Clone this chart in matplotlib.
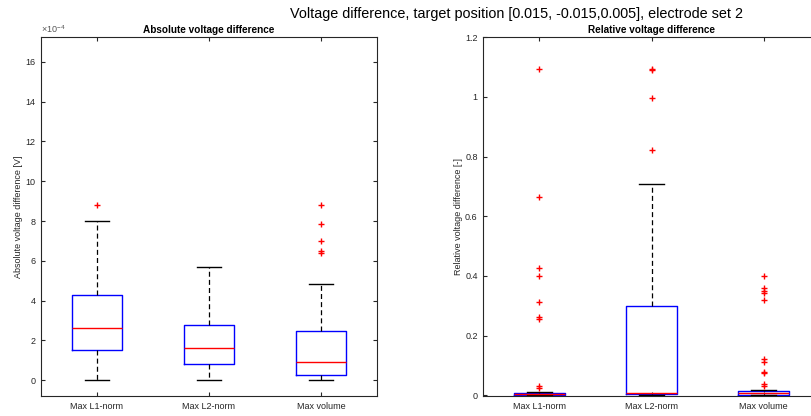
import matplotlib
matplotlib.use('Agg')
import matplotlib.pyplot as plt
from matplotlib.ticker import FixedLocator, FuncFormatter

plt.rcParams['font.family'] = ['Liberation Sans', 'DejaVu Sans']
plt.rcParams['mathtext.default'] = 'regular'

categories = ['Max L1-norm', 'Max L2-norm', 'Max volume']

# Absolute voltage difference [V]: box statistics per electrode-selection method
abs_q1 = [1.52e-4, 0.80e-4, 0.27e-4]
abs_med = [2.63e-4, 1.61e-4, 0.92e-4]
abs_q3 = [4.29e-4, 2.78e-4, 2.47e-4]
abs_whislo = [0.0, 0.0, 0.0]
abs_whishi = [8.02e-4, 5.67e-4, 4.85e-4]
abs_fliers = [[8.80e-4],
              [],
              [8.80e-4, 7.87e-4, 6.99e-4, 6.51e-4, 6.37e-4]]

# Relative voltage difference [-]
rel_q1 = [0.0005, 0.003, 0.001]
rel_med = [0.004, 0.0067, 0.007]
rel_q3 = [0.008, 0.301, 0.0134]
rel_whislo = [0.0, 0.0, 0.0]
rel_whishi = [0.011, 0.709, 0.019]
rel_fliers = [[1.094, 0.665, 0.426, 0.399, 0.314, 0.264, 0.257, 0.032, 0.0235],
              [1.093, 1.090, 0.997, 0.823],
              [0.400, 0.360, 0.351, 0.342, 0.319, 0.121, 0.113, 0.079, 0.074,
               0.039, 0.031]]

abs_ticks = [0, 2e-4, 4e-4, 6e-4, 8e-4, 10e-4, 12e-4, 14e-4, 16e-4]
rel_ticks = [0, 0.2, 0.4, 0.6, 0.8, 1.0, 1.2]

AX_COLOR = '#262626'
W, H = 811, 416


def make_stats(q1, med, q3, lo, hi, fliers):
    return [dict(q1=a, med=b, q3=c, whislo=d, whishi=e, fliers=f, label=lab)
            for a, b, c, d, e, f, lab in zip(q1, med, q3, lo, hi, fliers, categories)]


def draw_box(ax, stats):
    ax.bxp(stats, positions=[1, 2, 3], widths=0.45, capwidths=0.22,
           boxprops=dict(color='blue', lw=1.0),
           medianprops=dict(color='red', lw=1.0),
           whiskerprops=dict(color='black', lw=0.9, linestyle=(0, (4, 2.5))),
           capprops=dict(color='black', lw=1.0),
           flierprops=dict(marker='+', markeredgecolor='red', markerfacecolor='none',
                           markersize=5, markeredgewidth=1.0, linestyle='none'))
    ax.set_xlim(0.5, 3.5)
    ax.set_xticks([1, 2, 3])
    ax.set_xticklabels(categories)
    ax.tick_params(direction='in', top=True, right=True, length=3, width=0.8,
                   colors=AX_COLOR, labelsize=6.5, pad=4)
    for s in ax.spines.values():
        s.set_color(AX_COLOR)
        s.set_linewidth(0.8)


fig = plt.figure(figsize=(W / 100, H / 100), dpi=100)

ax1 = fig.add_axes([41 / W, 1 - 396 / H, 336 / W, (396 - 37.3) / H])
draw_box(ax1, make_stats(abs_q1, abs_med, abs_q3, abs_whislo, abs_whishi, abs_fliers))
ax1.set_ylim(-0.8e-4, 17.24e-4)
ax1.yaxis.set_major_locator(FixedLocator(abs_ticks))
ax1.yaxis.set_major_formatter(FuncFormatter(lambda v, p: '%g' % round(v * 1e4, 6)))
ax1.set_ylabel('Absolute voltage difference [V]', fontsize=6.5, color=AX_COLOR, labelpad=1.5)
ax1.set_title('Absolute voltage difference', fontsize=7.2, fontweight='bold', pad=3)
ax1.text(0.0, 1.006, r'$\times10^{-4}$', transform=ax1.transAxes, fontsize=6.5,
         color='#555555', ha='left', va='bottom')

ax2 = fig.add_axes([483.3 / W, 1 - 396 / H, 336.5 / W, (396 - 37.3) / H])
draw_box(ax2, make_stats(rel_q1, rel_med, rel_q3, rel_whislo, rel_whishi, rel_fliers))
ax2.set_ylim(-0.0023, 1.2)
ax2.yaxis.set_major_locator(FixedLocator(rel_ticks))
ax2.yaxis.set_major_formatter(FuncFormatter(lambda v, p: '%g' % round(v, 6)))
ax2.set_ylabel('Relative voltage difference [-]', fontsize=6.5, color=AX_COLOR, labelpad=1.5)
ax2.set_title('Relative voltage difference', fontsize=7.2, fontweight='bold', pad=3)

fig.text(516 / W, 1 - 14 / H,
         'Voltage difference, target position [0.015, -0.015,0.005], electrode set 2',
         ha='center', va='center', fontsize=10.4, color='black')

fig.savefig('out.png', dpi=100)
